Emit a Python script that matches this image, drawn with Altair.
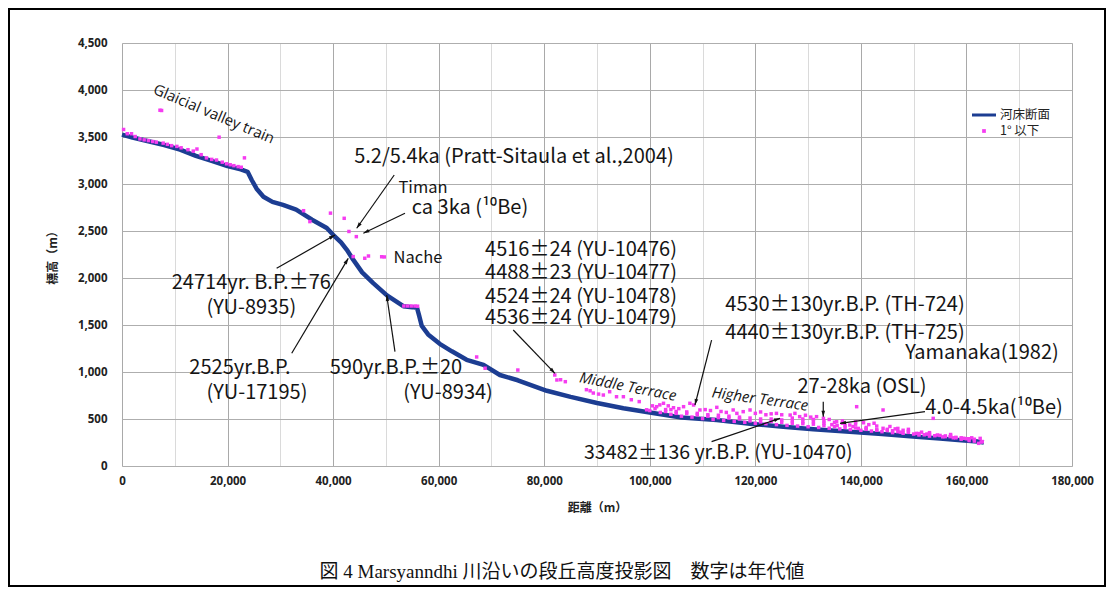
import math
import altair as alt
import pandas as pd

# ---------------- data ----------------
bed_x = [0, 2000, 5000, 8000, 11000, 14000, 17000, 20000, 22500, 23800, 24600, 25500, 26800, 28500,
         30500, 33000, 36000, 38800, 40000, 41500, 42600, 43800, 45500, 47600, 50200, 53300, 55000,
         55900, 56300, 56800, 58000, 60200, 62500, 65300, 68500, 71600, 75000, 80500, 85000, 90000,
         95000, 100000, 106000, 112700, 119000, 125300, 131000, 137900, 144000, 150500, 155000,
         159000, 162100, 163300]
bed_y = [3525, 3495, 3455, 3415, 3365, 3300, 3245, 3190, 3155, 3130, 3040, 2950, 2865, 2810,
         2777, 2728, 2620, 2532, 2460, 2380, 2300, 2195, 2060, 1945, 1815, 1700, 1690,
         1682, 1600, 1490, 1400, 1300, 1220, 1130, 1075, 968, 912, 800, 735, 670,
         615, 570, 515, 490, 450, 418, 392, 365, 340, 312, 292,
         275, 260, 250]

pink_x = [300, 1000, 1800, 2500, 3400, 4200, 5000, 5800, 6500, 7200, 7500, 7800, 8600, 9400, 10400,
          11200, 12500, 13500, 14200, 15000, 16000, 17000, 17900, 18400, 19000, 19800, 20500, 21200,
          22000, 22600, 23200,
          34400, 35600, 39500, 42100, 43000, 44400, 43800, 46000, 46700, 49200, 49700, 53400, 54100,
          54800, 55500, 56000,
          67200, 68800, 75000, 82000, 82400, 83100, 84000, 88000, 88700, 89300, 90300, 91200, 92400,
          93700, 95000, 96500, 98000, 99400, 100500,
          101300, 101900, 102600, 103500, 104500, 105500, 106400, 107600, 108300, 109500, 110500,
          111500, 112700, 113500, 114500, 115800, 116500, 117700, 119000, 120000, 121000, 122000,
          123000, 124000, 125000, 126600, 127500, 128400, 129500, 130500, 131600, 132900, 134000,
          135400, 136500, 137900, 139200, 139000, 140500, 141500, 142500, 144200, 144200, 145500,
          146500, 148000, 149000, 150500, 151500, 152500, 153700, 154500, 156000, 156900, 158000,
          159500, 160500, 161500, 162600, 163000, 162300,
          100000, 102000, 104000, 106000, 108000, 110000, 112000, 114000, 116000, 118000, 120000,
          122000, 124000, 126000, 128000, 130000, 132000, 134000, 136000, 138000, 140000, 142000,
          144000, 146000, 148000, 150000, 152000, 154000, 156000, 158000, 160000,
          105000, 109000, 113000, 117000, 121000, 125000, 129000, 133000, 137000, 141000, 145000,
          149000, 153000, 157000, 161000,
          104000, 103000, 127000, 129000, 131000, 133000, 134500, 135500, 136500, 138500, 139500,
          141000, 143000, 146000, 147500, 151000, 153000, 155500, 157500, 159000, 160500, 161500,
          162800,
          107000, 111000, 115000, 119000, 123000, 127000, 131000, 135000, 139000, 143000, 147000,
          101000, 103000, 105000, 107000, 109000, 111000, 113000, 115000, 117000, 119000, 121000,
          123000, 125000, 127000, 129000, 131000, 133000, 135000, 137000, 139000, 141000, 143000,
          145000, 147000, 149000, 151000, 153000, 155000, 157000, 159000]
pink_y = [3580, 3535, 3535, 3505, 3480, 3470, 3462, 3452, 3445, 3785, 3782, 3435, 3422, 3408, 3400,
          3385, 3365, 3350, 3372, 3312, 3278, 3262, 3255, 3498, 3232, 3215, 3205, 3195,
          3185, 3178, 3278,
          2716, 2600, 2690, 2635, 2495, 2440, 2228, 2210, 2234, 2226, 2224, 1702, 1702,
          1702, 1702, 1700,
          1160, 1040, 1021, 968, 915, 918, 897, 812, 800, 776, 765, 755, 790,
          737, 737, 705, 685, 598, 640,
          631, 650, 667, 640, 620, 610, 631, 667, 649, 596, 600,
          590, 624, 580, 570, 596, 560, 578, 596, 560, 575, 545,
          555, 560, 545, 542, 560, 525, 540, 520, 525, 507, 495,
          471, 480, 436, 631, 470, 460, 440, 455, 596, 401, 420,
          395, 380, 390, 347, 360, 340, 507, 330, 320, 312, 305,
          295, 290, 285, 294, 260, 241,
          590, 570, 550, 530, 520, 505, 495, 485, 475, 465, 455,
          450, 440, 432, 425, 418, 410, 402, 395, 388, 380, 372,
          365, 355, 348, 340, 332, 322, 312, 300, 290,
          580, 560, 540, 520, 500, 490, 470, 455, 430, 410, 390,
          370, 355, 335, 300,
          600, 580, 480, 500, 470, 480, 440, 430, 455, 420, 400,
          395, 380, 375, 360, 330, 318, 310, 300, 285, 270, 265,
          255,
          560, 545, 530, 510, 500, 510, 495, 465, 445, 425, 400,
          610, 600, 560, 575, 545, 530, 515, 510, 500, 480, 470,
          475, 465, 455, 450, 445, 430, 420, 410, 405, 390, 385,
          378, 365, 358, 345, 338, 325, 318, 300]

# annotation texts (centre x in metres, y in metres of elevation)
ann_text = ["5.2/5.4ka (Pratt-Sitaula et al.,2004)", "Timan", "ca 3ka (¹⁰Be)", "Nache",
            "24714yr. B.P.±76", "(YU-8935)", "2525yr.B.P.", "(YU-17195)",
            "590yr.B.P.±20", "(YU-8934)",
            "4516±24 (YU-10476)", "4488±23 (YU-10477)", "4524±24 (YU-10478)", "4536±24 (YU-10479)",
            "4530±130yr.B.P. (TH-724)", "4440±130yr.B.P. (TH-725)", "Yamanaka(1982)",
            "27-28ka (OSL)", "4.0-4.5ka(¹⁰Be)", "33482±136 yr.B.P. (YU-10470)"]
ann_x = [74270, 57030, 65940, 56080, 24500, 24500, 22360, 25580, 51910, 61770,
         86970, 86970, 86970, 86970, 136990, 136990, 162940, 140210, 165220, 112980]
ann_y = [3290, 2957, 2741, 2209, 1947, 1681, 1043, 777, 1043, 777,
         2298, 2050, 1801, 1571, 1713, 1411, 1199, 844, 614, 135]
ann_size = [20, 16.5, 20, 16.5, 20, 20, 20, 20, 20, 20,
            20, 20, 20, 20, 20, 20, 20, 20, 20, 19.5]

tilt_text = ["Glaicial valley train", "Middle Terrace", "Higher Terrace"]
tilt_x = [17430, 95870, 120880]
tilt_y = [3745, 844, 713]
tilt_angle = [23, 11, 8]
tilt_size = [15, 15, 15]
tilt_style = ["normal", "italic", "italic"]

arr_x1 = [51580, 53620, 29300, 32160, 51720, 74130, 111710, 132870, 152140, 111710]
arr_y1 = [3096, 2688, 2103, 1199, 1216, 1447, 1340, 684, 578, 259]
arr_x2 = [44470, 45730, 40350, 42870, 50150, 82030, 108560, 132870, 136040, 124680]
arr_y2 = [2529, 2476, 2457, 2209, 1819, 986, 649, 524, 454, 507]

legend_labels = ["河床断面", "1° 以下"]
caption = "図 4 Marsyanndhi 川沿いの段丘高度投影図　数字は年代値"

# ---------------- layout ----------------
W, H = 950, 423
XMAX, YMAX = 180000, 4500
BLUE = "#1C3D92"
PINK = "#F53CF0"
JP = "Noto Sans CJK JP"

bed = pd.DataFrame({"x": bed_x, "y": bed_y})
pink = pd.DataFrame({"x": pink_x, "y": pink_y})
ann = pd.DataFrame({"t": ann_text, "x": ann_x, "y": ann_y, "s": ann_size})
tilt = pd.DataFrame({"t": tilt_text, "x": tilt_x, "y": tilt_y, "a": tilt_angle, "s": tilt_size, "st": tilt_style})

sx, sy = W / XMAX, H / YMAX
angles = []
for a, b, c, d in zip(arr_x1, arr_y1, arr_x2, arr_y2):
    dx = (c - a) * sx
    dy = -(d - b) * sy
    angles.append(math.degrees(math.atan2(dx, -dy)) % 360)
arr = pd.DataFrame({"x1": arr_x1, "y1": arr_y1, "x2": arr_x2, "y2": arr_y2, "ang": angles})

xs = alt.Scale(domain=[0, XMAX], nice=False, zero=True)
ys = alt.Scale(domain=[0, YMAX], nice=False, zero=True)

xaxis = alt.Axis(values=list(range(0, XMAX + 1, 10000)),
                 labelExpr="datum.value % 20000 === 0 ? format(datum.value, ',') : ''",
                 gridColor=alt.condition("datum.value % 20000 === 0", alt.value("#A9A9A9"), alt.value("#DADADA")),
                 grid=True, ticks=False, tickSize=0, domain=False, labelPadding=9,
                 labelFont="Open Sans", labelFontWeight="bold", labelFontSize=11.5, labelColor="#222",
                 title="距離（m）", titleFont=JP, titleFontWeight="bold", titleFontSize=12,
                 titlePadding=16, titleColor="#222", labelFlush=False)
yaxis = alt.Axis(values=list(range(0, YMAX + 1, 500)), format=",d", grid=True, gridColor="#AEAEAE",
                 ticks=False, tickSize=0, domain=False, labelPadding=15,
                 labelFont="Open Sans", labelFontWeight="bold", labelFontSize=11.5, labelColor="#222",
                 title="標高（m）", titleFont=JP, titleFontWeight="bold", titleFontSize=12,
                 titlePadding=18, titleColor="#222")

base_line = alt.Chart(bed).mark_line(color=BLUE, strokeWidth=4.5, strokeJoin="round").encode(
    x=alt.X("x:Q", scale=xs, axis=xaxis),
    y=alt.Y("y:Q", scale=ys, axis=yaxis),
)
pts = alt.Chart(pink).mark_square(color=PINK, size=12, opacity=1).encode(
    x=alt.X("x:Q", scale=xs), y=alt.Y("y:Q", scale=ys))

arrows = alt.Chart(arr).mark_rule(color="#111", strokeWidth=1.2).encode(
    x=alt.X("x1:Q", scale=xs), y=alt.Y("y1:Q", scale=ys), x2="x2:Q", y2="y2:Q")
heads = alt.Chart(arr).mark_point(shape="M0,0L-0.55,1.8L0.55,1.8Z", filled=True, color="#111",
                                  size=45, opacity=1).encode(
    x=alt.X("x2:Q", scale=xs), y=alt.Y("y2:Q", scale=ys), angle=alt.Angle("ang:Q", scale=None))

texts = alt.Chart(ann).mark_text(font=JP, color="#151515", align="center", baseline="middle").encode(
    x=alt.X("x:Q", scale=xs), y=alt.Y("y:Q", scale=ys), text="t:N", size=alt.Size("s:Q", scale=None))

tilt_n = alt.Chart(tilt).transform_filter("datum.st == 'normal'").mark_text(
    font="Open Sans", color="#151515", align="center", baseline="middle").encode(
    x=alt.X("x:Q", scale=xs), y=alt.Y("y:Q", scale=ys), text="t:N",
    size=alt.Size("s:Q", scale=None), angle=alt.Angle("a:Q", scale=None))
tilt_i = alt.Chart(tilt).transform_filter("datum.st == 'italic'").mark_text(
    font="Open Sans", fontStyle="italic", color="#151515", align="center", baseline="middle").encode(
    x=alt.X("x:Q", scale=xs), y=alt.Y("y:Q", scale=ys), text="t:N",
    size=alt.Size("s:Q", scale=None), angle=alt.Angle("a:Q", scale=None))

one = pd.DataFrame({"k": [0]})
leg_line = alt.Chart(one).mark_rule(color=BLUE, strokeWidth=3).encode(
    x=alt.value(850), x2=alt.value(874), y=alt.value(72))
leg_pt = alt.Chart(one).mark_square(color=PINK, size=14, opacity=1).encode(
    x=alt.value(862), y=alt.value(88))
leg_t1 = alt.Chart(one).mark_text(text=legend_labels[0], font=JP, fontSize=12.5, align="left",
                                  baseline="middle", color="#222").encode(x=alt.value(878), y=alt.value(72))
leg_t2 = alt.Chart(one).mark_text(text=legend_labels[1], font=JP, fontSize=12.5, align="left",
                                  baseline="middle", color="#222").encode(x=alt.value(878), y=alt.value(88))

cap = alt.Chart(one).mark_text(text=caption, font="Liberation Serif, 'Noto Sans CJK JP'", fontSize=19,
                               align="center", baseline="middle", color="#111").encode(
    x=alt.value(440), y=alt.value(529))
frame = alt.Chart(one).mark_rect(fill=None, fillOpacity=0, stroke="#000", strokeWidth=2).encode(
    x=alt.value(-113), x2=alt.value(983), y=alt.value(-34), y2=alt.value(543))

chart = alt.layer(base_line, pts, arrows, heads, texts, tilt_n, tilt_i,
                  leg_line, leg_pt, leg_t1, leg_t2, cap, frame).properties(
    width=W, height=H,
    autosize=alt.AutoSizeParams(type="none"),
    padding={"left": 114, "top": 35, "right": 35, "bottom": 122},
).configure_view(stroke="#A0A0A0", strokeWidth=1.2).configure(background="white")

chart.save("out.html", embed_options={"renderer": "svg", "actions": False})
